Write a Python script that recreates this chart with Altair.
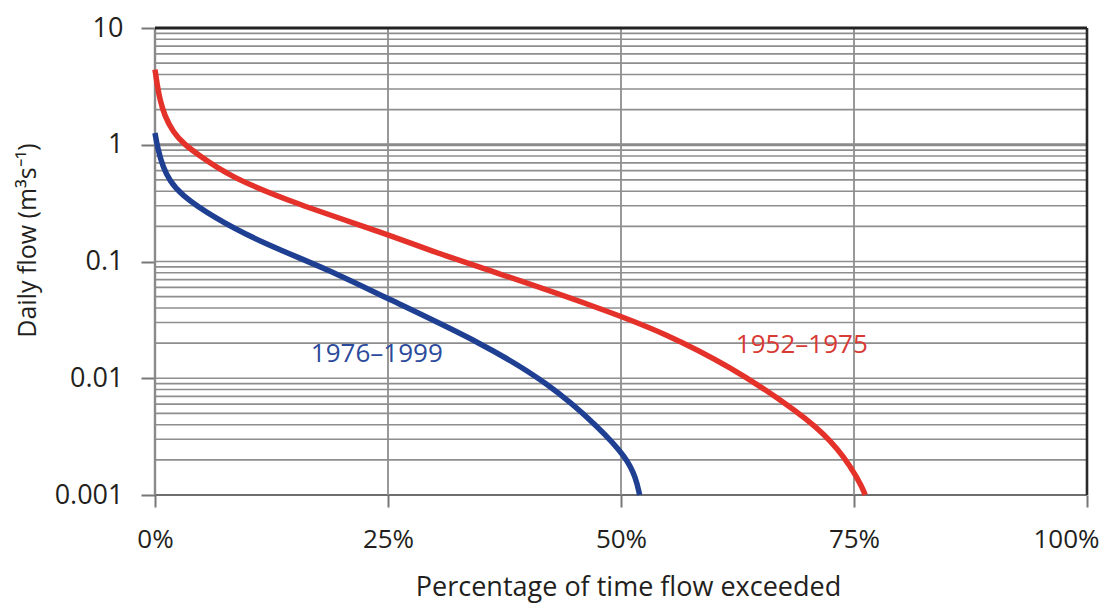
import altair as alt
import pandas as pd

# ---- data ----
red_pct = [0, 0.25, 0.54, 1.0, 1.93, 3.2, 4.47, 8.04, 15.2, 24.8, 29.5, 35.9, 47.7, 54.9, 61.9, 67.3, 72.0, 74.8, 75.9, 76.2]
red_flow = [4.4, 3.2, 2.41, 1.8, 1.28, 1.0, 0.84, 0.53, 0.31, 0.173, 0.124, 0.084, 0.040, 0.024, 0.0123, 0.0064, 0.00334, 0.0017, 0.00115, 0.001]

blue_pct = [0, 0.3, 0.86, 1.6, 2.68, 6.2, 11.6, 18.8, 24.5, 35.2, 42.3, 47.7, 50.6, 51.6, 52.0]
blue_flow = [1.26, 0.92, 0.64, 0.49, 0.38, 0.24, 0.143, 0.084, 0.05, 0.0198, 0.0090, 0.00376, 0.00208, 0.0014, 0.001]

series_names = ["1952–1975", "1976–1999"]
series_colors = ["#e4322b", "#1f3f93"]
label_colors = ["#d83a35", "#2b4a9b"]
label_pct = [69.4, 23.8]
label_flow = [0.0194, 0.0162]

y_major = [0.001, 0.01, 0.1, 1, 10]
y_minor = [k * 10.0 ** e for e in (-3, -2, -1, 0) for k in range(2, 10)]
x_ticks = [0, 25, 50, 75, 100]

FONT = "Open Sans"
W, H = 932, 467

xs = alt.Scale(domain=[0, 100], nice=False, zero=False)
ys = alt.Scale(type="log", domain=[0.001, 10], nice=False)

x_axis = alt.Axis(
    values=x_ticks, labelExpr="datum.value + '%'", grid=False, domain=False,
    tickSize=12, tickWidth=2, tickColor="#777777", labelFlush=False,
    labelOffset={"condition": {"test": "datum.value == 100", "value": -21}, "value": 0},
    labelFont=FONT, labelFontSize=26, labelColor="#231f20", labelPadding=19,
    title="Percentage of time flow exceeded", titleFont=FONT, titleFontSize=27,
    titleFontWeight="normal", titleColor="#231f20",
    titleBaseline="alphabetic", titleY=100, titleX=W / 2 + 7,
)
y_axis = alt.Axis(
    values=y_major, labelExpr="format(datum.value, '~g')", grid=False, domain=False,
    tickSize=14, tickWidth=2, tickColor="#777777", labelFlush=False,
    labelFont=FONT, labelFontSize=27, labelColor="#231f20", labelPadding=18,
    title="Daily flow (m³s⁻¹)", titleFont=FONT, titleFontSize=25,
    titleFontWeight="normal", titleColor="#231f20",
    titleBaseline="alphabetic", titleAngle=-90, titleX=-120, titleY=212,
)

curves = pd.DataFrame(
    [{"pct": p, "flow": f, "series": series_names[0], "order": i} for i, (p, f) in enumerate(zip(red_pct, red_flow))]
    + [{"pct": p, "flow": f, "series": series_names[1], "order": i} for i, (p, f) in enumerate(zip(blue_pct, blue_flow))]
)

minor_df = pd.DataFrame({"flow": y_minor + [0.01, 0.1]})
one_df = pd.DataFrame({"flow": [1]})
top_df = pd.DataFrame({"flow": [10]})
bottom_df = pd.DataFrame({"flow": [0.001]})
vgrid_df = pd.DataFrame({"pct": [25, 50, 75]})
left_df = pd.DataFrame({"pct": [0]})
right_df = pd.DataFrame({"pct": [100]})
labels_df = pd.DataFrame({"pct": label_pct, "flow": label_flow, "name": series_names, "color": label_colors})


def yenc():
    return alt.Y("flow:Q", scale=ys, axis=y_axis)


def xenc():
    return alt.X("pct:Q", scale=xs, axis=x_axis)


minor = alt.Chart(minor_df).mark_rule(color="#8e8e8e", strokeWidth=1.6).encode(y=yenc())
one = alt.Chart(one_df).mark_rule(color="#8a8a8a", strokeWidth=3.2).encode(y=yenc())
bottom = alt.Chart(bottom_df).mark_rule(color="#6e6e6e", strokeWidth=2.2).encode(y=yenc())
vgrid = alt.Chart(vgrid_df).mark_rule(color="#8e8e8e", strokeWidth=1.8).encode(x=xenc())
left = alt.Chart(left_df).mark_rule(color="#8a8a8a", strokeWidth=2.4).encode(x=xenc())
right = alt.Chart(right_df).mark_rule(color="#2a2a2a", strokeWidth=2.6).encode(x=xenc())
top = alt.Chart(top_df).mark_rule(color="#222222", strokeWidth=3.0).encode(y=yenc())

lines = alt.Chart(curves).mark_line(strokeWidth=5.5, interpolate="basis", strokeCap="butt").encode(
    x=xenc(),
    y=yenc(),
    color=alt.Color("series:N", scale=alt.Scale(domain=series_names, range=series_colors), legend=None),
    order="order:Q",
)

labels = alt.Chart(labels_df).mark_text(font=FONT, fontSize=26, align="center", baseline="middle").encode(
    x=xenc(),
    y=yenc(),
    text="name:N",
    color=alt.Color("color:N", scale=None),
)

chart = alt.layer(minor, one, bottom, vgrid, left, right, top, lines, labels).properties(
    width=W, height=H,
    autosize=alt.AutoSizeParams(type="none"),
    padding={"left": 155, "top": 28, "right": 15, "bottom": 110},
).configure_view(stroke=None).configure(background="white")

chart.save("out.html", embed_options={"renderer": "svg", "actions": False})
